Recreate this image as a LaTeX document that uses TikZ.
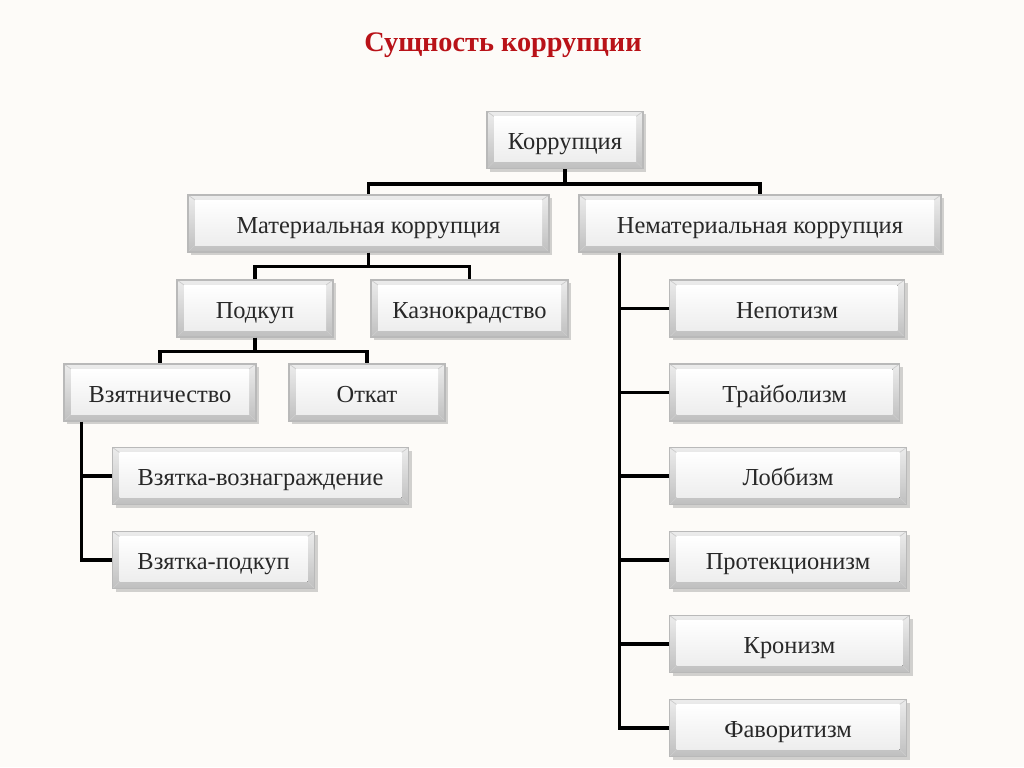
\documentclass[tikz,border=0pt]{standalone}
\usepackage{fontspec}
\setmainfont{Liberation Serif}
\usetikzlibrary{shadows,calc}
\definecolor{bgc}{RGB}{253,251,248}
\definecolor{titlered}{RGB}{185,18,24}
\definecolor{txt}{RGB}{40,40,40}
\tikzset{
  bevel/.style={draw=gray!55, line width=0.3pt, top color=gray!15, bottom color=gray!50,
    minimum height=0.57cm, inner sep=0pt, font=\fontsize{6.95}{8.4}\selectfont, text=txt,
    text height=1.22ex, text depth=0pt,
    drop shadow={opacity=0.35, shadow xshift=0.03cm, shadow yshift=-0.03cm},
    path picture={
      \coordinate (nw) at (path picture bounding box.north west);
      \coordinate (se) at (path picture bounding box.south east);
      \coordinate (ne) at (path picture bounding box.north east);
      \coordinate (sw) at (path picture bounding box.south west);
      \draw[gray!40, line width=0.2pt] (nw) -- ++(0.07,-0.05) (ne) -- ++(-0.07,-0.05)
        (sw) -- ++(0.07,0.07) (se) -- ++(-0.07,0.07);
      \fill[top color=white, bottom color=gray!14]
        ([shift={(0.07,-0.05)}]nw) rectangle ([shift={(-0.07,0.07)}]se);
    }},
  conn/.style={line width=1pt, black}
}
\begin{document}
\begin{tikzpicture}
\useasboundingbox[fill=bgc] (0,0) rectangle (10.24,7.67);
\node[font=\fontsize{8.05}{9.5}\selectfont\bfseries, text=titlered] (title) at (5.03,7.22) {Сущность коррупции};

\node[bevel, minimum width=1.56cm] (korr) at (5.65,6.27) {Коррупция};
\node[bevel, minimum width=3.61cm] (mat) at (3.685,5.435) {Материальная коррупция};
\node[bevel, minimum width=3.62cm] (nem) at (7.60,5.435) {Нематериальная коррупция};
\node[bevel, minimum width=1.56cm] (podk) at (2.55,4.585) {Подкуп};
\node[bevel, minimum width=1.97cm] (kazn) at (4.695,4.585) {Казнокрадство};
\node[bevel, minimum width=1.92cm] (vzn) at (1.60,3.745) {Взятничество};
\node[bevel, minimum width=1.56cm] (otk) at (3.67,3.745) {Откат};
\node[bevel, minimum width=2.96cm, anchor=west] (vv) at (1.12,2.91) {Взятка-вознаграждение};
\node[bevel, minimum width=2.02cm, anchor=west] (vp) at (1.12,2.07) {Взятка-подкуп};

\node[bevel, minimum width=2.35cm, anchor=west] (nep) at (6.69,4.585) {Непотизм};
\node[bevel, minimum width=2.30cm, anchor=west] (tra) at (6.69,3.745) {Трайболизм};
\node[bevel, minimum width=2.37cm, anchor=west] (lob) at (6.69,2.91) {Лоббизм};
\node[bevel, minimum width=2.37cm, anchor=west] (pro) at (6.69,2.07) {Протекционизм};
\node[bevel, minimum width=2.40cm, anchor=west] (kro) at (6.69,1.23) {Кронизм};
\node[bevel, minimum width=2.37cm, anchor=west] (fav) at (6.69,0.39) {Фаворитизм};

\draw[conn] (korr.south) -- ++(0,-0.15) -| (mat.north);
\draw[conn] (korr.south) -- ++(0,-0.15) -| (nem.north);
\draw[conn] (mat.south) -- ++(0,-0.14) -| (podk.north);
\draw[conn] (mat.south) -- ++(0,-0.14) -| (kazn.north);
\draw[conn] (podk.south) -- ++(0,-0.14) -| (vzn.north);
\draw[conn] (podk.south) -- ++(0,-0.14) -| (otk.north);

\coordinate (vs) at ([xshift=0.18cm]vzn.south west);
\draw[conn] (vs) |- (vp.west);
\draw[conn] (vv.west) -- (vv.west -| vs);

\coordinate (ns) at ([xshift=0.41cm]nem.south west);
\draw[conn] (ns) |- (fav.west);
\foreach \n in {nep,tra,lob,pro,kro} \draw[conn] (\n.west) -- (\n.west -| ns);
\end{tikzpicture}
\end{document}
